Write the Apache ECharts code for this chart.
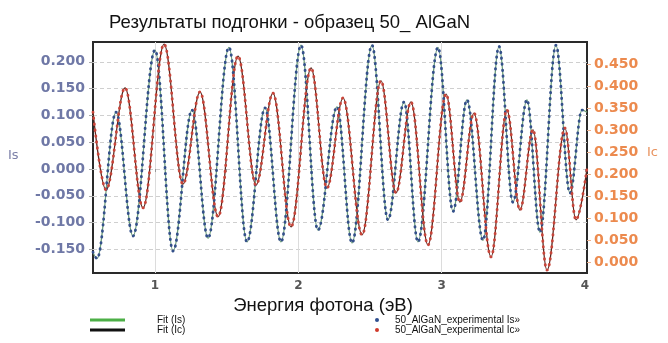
<!DOCTYPE html>
<html>
<head>
<meta charset="utf-8">
<script src="https://cdn.jsdelivr.net/npm/echarts@6/dist/echarts.min.js"></script>
<style>
  html, body { margin: 0; padding: 0; background: #fff; }
  #chart { width: 668px; height: 343px; }
</style>
</head>
<body>
<div id="chart"></div>
<script>
// Is (left axis): peaks and troughs, [energy eV, Is]
const isPoints = [
  [0.567, -0.155], [0.595, -0.167], [0.728, 0.106], [0.846, -0.125],
  [1.000, 0.222], [1.126, -0.153], [1.258, 0.110], [1.370, -0.129],
  [1.516, 0.227], [1.642, -0.136], [1.768, 0.114], [1.879, -0.136],
  [2.019, 0.231], [2.137, -0.114], [2.270, 0.116], [2.375, -0.138],
  [2.514, 0.231], [2.626, -0.095], [2.738, 0.125], [2.835, -0.136],
  [2.975, 0.227], [3.080, -0.079], [3.177, 0.129], [3.289, -0.133],
  [3.401, 0.229], [3.498, -0.062], [3.596, 0.129], [3.687, -0.118],
  [3.798, 0.231], [3.896, -0.045], [3.980, 0.110], [4.015, 0.106]
]
// Ic (right axis)
const icPoints = [
  [0.567, 0.341], [0.658, 0.165], [0.791, 0.396], [0.916, 0.124],
  [1.063, 0.495], [1.195, 0.178], [1.314, 0.387], [1.440, 0.104],
  [1.579, 0.468], [1.705, 0.176], [1.823, 0.384], [1.949, 0.081],
  [2.089, 0.441], [2.200, 0.169], [2.312, 0.373], [2.445, 0.063],
  [2.577, 0.412], [2.682, 0.158], [2.786, 0.364], [2.905, 0.040],
  [3.031, 0.382], [3.128, 0.137], [3.226, 0.339], [3.345, 0.013],
  [3.456, 0.346], [3.547, 0.119], [3.638, 0.301], [3.736, -0.017],
  [3.861, 0.305], [3.938, 0.097], [4.015, 0.214]
]
const isTicks = [-0.15, -0.1, -0.05, 0, 0.05, 0.1, 0.15, 0.2]
const icTicks = [0, 0.05, 0.1, 0.15, 0.2, 0.25, 0.3, 0.35, 0.4, 0.45]
const xLabels = [1, 2, 3, 4]
const xTicks = [1, 1.5, 2, 2.5, 3, 3.5, 4]
const xGrid = [1, 2, 3]

const chart = echarts.init(document.getElementById('chart'), null, { renderer: 'canvas' })

const numFont = 'DejaVu Sans'
const txtFont = 'Liberation Sans'

const option = {
  animation: false,
  title: {
    text: 'Результаты подгонки - образец 50_ AlGaN',
    left: 104,
    top: 8,
    textStyle: { fontFamily: txtFont, fontSize: 18.5, fontWeight: 'normal', color: '#111' },
  },
  grid: {
    left: 93,
    right: 81,
    top: 42,
    bottom: 70,
    show: true,
    borderColor: '#2a2a2a',
    borderWidth: 2,
  },
  graphic: [
    { type: 'text', left: 8, top: 149, style: { text: 'Is', fontFamily: numFont, fontSize: 13, fill: '#7c80a8' } },
    { type: 'text', left: 647, top: 146, style: { text: 'Ic', fontFamily: numFont, fontSize: 13, fill: '#e8925e' } },
  ],
  legend: [
    {
      left: 90,
      top: 315,
      padding: 0,
      orient: 'vertical',
      itemWidth: 35,
      itemHeight: 3,
      itemGap: 0,
      textStyle: { fontFamily: txtFont, fontSize: 10, lineHeight: 10, color: '#111', padding: [0, 0, 0, 27] },
      data: [
        { name: 'Fit (Is)', icon: 'rect' },
        { name: 'Fit (Ic)', icon: 'rect' },
      ],
    },
    {
      left: 375,
      top: 315,
      padding: 0,
      orient: 'vertical',
      itemWidth: 4,
      itemHeight: 4,
      itemGap: 0,
      textStyle: { fontFamily: txtFont, fontSize: 10, lineHeight: 10, color: '#111', padding: [0, 0, 0, 11] },
      data: [
        { name: '50_AlGaN_experimental Is»', icon: 'circle' },
        { name: '50_AlGaN_experimental Ic»', icon: 'circle' },
      ],
    },
  ],
  xAxis: [
    {
      type: 'value',
      min: 0.567,
      max: 4.015,
      name: 'Энергия фотона (эВ)',
      nameLocation: 'middle',
      nameGap: 19,
      nameTextStyle: { fontFamily: txtFont, fontSize: 18.5, color: '#111', padding: [0, 34, 0, 0] },
      axisLine: { show: false },
      axisTick: { show: true, customValues: xTicks, length: 3, lineStyle: { color: '#999' } },
      axisLabel: {
        customValues: xLabels,
        margin: 7,
        fontFamily: numFont,
        fontSize: 12,
        fontWeight: 'bold',
        color: '#555',
      },
      splitLine: { show: false },
    },
    {
      type: 'value',
      min: 0.567,
      max: 4.015,
      axisLine: { show: false },
      axisTick: { show: false, customValues: xGrid },
      axisLabel: { show: false, customValues: xGrid },
      splitLine: { show: true, lineStyle: { color: '#dcdcdc', width: 1 } },
    },
  ],
  yAxis: [
    {
      type: 'value',
      position: 'left',
      min: -0.194,
      max: 0.237,
      axisLine: { show: false },
      axisTick: { show: true, inside: false, length: 4, customValues: isTicks, lineStyle: { color: '#aaa' } },
      axisLabel: {
        customValues: isTicks,
        margin: 8,
        formatter: (v) => v.toFixed(3),
        fontFamily: numFont,
        fontSize: 14,
        fontWeight: 'bold',
        color: '#6f78a6',
      },
      splitLine: { show: true, lineStyle: { color: '#cfcfcf', type: [4, 3] } },
    },
    {
      type: 'value',
      position: 'right',
      min: -0.0234,
      max: 0.4998,
      axisLine: { show: false },
      axisTick: { show: true, inside: false, length: 4, customValues: icTicks, lineStyle: { color: '#e8b090' } },
      axisLabel: {
        customValues: icTicks,
        margin: 7,
        formatter: (v) => v.toFixed(3),
        fontFamily: numFont,
        fontSize: 14,
        fontWeight: 'bold',
        color: '#ec8a4e',
      },
      splitLine: { show: false },
    },
  ],
  series: [
    {
      name: 'Fit (Is)',
      type: 'line',
      xAxisIndex: 0,
      yAxisIndex: 0,
      data: isPoints,
      smooth: 0.36,
      smoothMonotone: 'x',
      symbol: 'none',
      color: '#4caf47',
      lineStyle: { width: 1.2, color: '#6f9f7a' },
      z: 2,
    },
    {
      name: 'Fit (Ic)',
      type: 'line',
      xAxisIndex: 0,
      yAxisIndex: 1,
      data: icPoints,
      smooth: 0.36,
      smoothMonotone: 'x',
      symbol: 'none',
      color: '#111',
      lineStyle: { width: 1.2, color: '#5a2a22' },
      z: 2,
    },
    {
      name: '50_AlGaN_experimental Is»',
      type: 'line',
      xAxisIndex: 0,
      yAxisIndex: 0,
      data: isPoints,
      smooth: 0.36,
      smoothMonotone: 'x',
      symbol: 'none',
      color: '#2f4f8f',
      lineStyle: { width: 2.8, type: [0.5, 5.5], cap: 'round', color: '#34508a' },
      z: 3,
    },
    {
      name: '50_AlGaN_experimental Ic»',
      type: 'line',
      xAxisIndex: 0,
      yAxisIndex: 1,
      data: icPoints,
      smooth: 0.36,
      smoothMonotone: 'x',
      symbol: 'none',
      color: '#d0392b',
      lineStyle: { width: 2.8, type: [0.5, 5.5], cap: 'round', color: '#c8453a' },
      z: 3,
    },
  ],
}

chart.setOption(option)
</script>
</body>
</html>
